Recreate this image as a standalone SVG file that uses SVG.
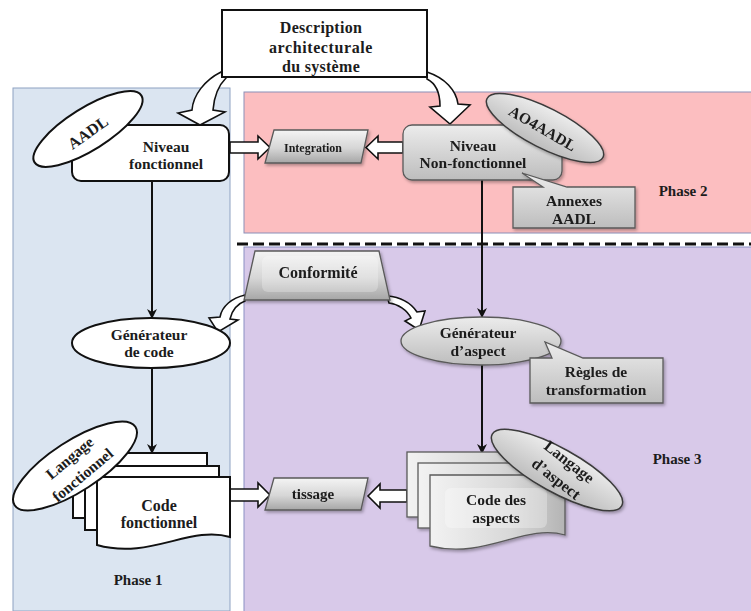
<svg xmlns="http://www.w3.org/2000/svg" width="751" height="611" viewBox="0 0 751 611">
  <style>
    .t { font-family: "Liberation Serif", "Times New Roman", serif; font-weight: bold; fill: #1c1c1c; text-anchor: middle; }
    .f12 { font-size: 12px; }
    .f15 { font-size: 15px; }
    .f155 { font-size: 15.5px; }
    .f16 { font-size: 16px; }
    .white { fill: #ffffff; stroke: #111111; stroke-width: 2; }
    .gray { stroke: #5a5a5a; stroke-width: 1.3; }
    .blk { fill: #ffffff; stroke: #111111; stroke-width: 1.6; stroke-linejoin: miter; }
    .line { fill: none; stroke: #111111; stroke-width: 2; marker-end: url(#arr); }
  </style>
  <defs>
    <marker id="arr" viewBox="0 0 10 10" refX="9" refY="5" markerWidth="10" markerHeight="10" markerUnits="userSpaceOnUse" orient="auto">
      <path d="M0,0 L10,5 L0,10 L3,5 Z" fill="#111111"/>
    </marker>
    <linearGradient id="g1" x1="0" y1="0" x2="0" y2="1">
      <stop offset="0" stop-color="#f4f4f4"/>
      <stop offset="0.55" stop-color="#d6d6d6"/>
      <stop offset="1" stop-color="#a6a6a6"/>
    </linearGradient>
    <linearGradient id="g2" x1="0" y1="0" x2="0" y2="1">
      <stop offset="0" stop-color="#ececec"/>
      <stop offset="1" stop-color="#bdbdbd"/>
    </linearGradient>
    <linearGradient id="g3" x1="0" y1="0" x2="1" y2="0">
      <stop offset="0" stop-color="#f2f2f2"/>
      <stop offset="0.6" stop-color="#d8d8d8"/>
      <stop offset="1" stop-color="#b4b4b4"/>
    </linearGradient>
    <filter id="sh" x="-10%" y="-10%" width="130%" height="140%">
      <feDropShadow dx="1.5" dy="2" stdDeviation="1.5" flood-color="#000000" flood-opacity="0.3"/>
    </filter>
  </defs>

  <!-- phase areas -->
  <g id="phases">
    <rect x="13" y="88" width="217" height="523" fill="#dbe5f1" stroke="#8ea2c2" stroke-width="1"/>
    <rect x="244" y="92" width="508" height="141" fill="#fcbec0" stroke="#8a8fb8" stroke-width="1"/>
    <rect x="244" y="247" width="508" height="365" fill="#d8c9e9" stroke="#8a8fc4" stroke-width="1"/>
    <line x1="237" y1="244" x2="751" y2="244" stroke="#111111" stroke-width="3" stroke-dasharray="11 5"/>
    <text class="t f15" x="138" y="585">Phase 1</text>
    <text class="t f15" x="683" y="196">Phase 2</text>
    <text class="t f15" x="677" y="464">Phase 3</text>
  </g>

  <!-- connectors -->
  <g id="connectors">
    <line class="line" x1="152" y1="181" x2="152" y2="318"/>
    <line class="line" x1="152" y1="368" x2="152" y2="453"/>
    <line class="line" x1="482" y1="180" x2="482" y2="317"/>
    <line class="line" x1="482" y1="365" x2="482" y2="453"/>
    <!-- curved block arrows from the description -->
    <path class="blk" d="M221 72 C205 80 193 95 192 110 L178 113 L200 125 L225 112 L213 110 C214 97 218 86 226 78 Z"/>
    <path class="blk" d="M427 72 C445 78 456 90 458 104 L470 105 L450 124 L430 107 L440 106 C440 92 435 83 427 79 Z"/>
    <!-- block arrows to integration -->
    <path class="blk" d="M230 142 H258 V136 L270 147.5 L258 159 V153 H230 Z"/>
    <path class="blk" d="M403 142 H378 V136 L366 147.5 L378 159 V153 H403 Z"/>
    <!-- curved block arrows from conformité -->
    <path class="blk" d="M245 295 C232 298 222 306 220 317 L209 318 L218 332 L238 320 L230 319 C232 310 237 304 245 301 Z"/>
    <path class="blk" d="M387 296 C400 297 411 303 417 312 L425 311 L419 330 L405 321 L411 318 C407 310 398 304 389 303 Z"/>
    <!-- block arrows to tissage -->
    <path class="blk" d="M230 489 H258 V483 L270 495 L258 507 V501 H230 Z"/>
    <path class="blk" d="M407 490 H380 V484 L368 496 L380 508 V502 H407 Z"/>
  </g>

  <g id="description">
    <rect x="222" y="10" width="205" height="67" fill="#ffffff" stroke="#111111" stroke-width="2"/>
    <text class="t f16" x="321" y="33" letter-spacing="0.3">Description</text>
    <text class="t f16" x="321" y="53" letter-spacing="0.6">architecturale</text>
    <text class="t f16" x="321" y="72" letter-spacing="0.3">du système</text>
  </g>

  <g id="niveau-fonctionnel">
    <rect class="white" x="72" y="125" width="157" height="56" rx="9"/>
    <text class="t f155" x="166" y="152">Niveau</text>
    <text class="t f155" x="166" y="169">fonctionnel</text>
  </g>

  <g id="aadl">
    <ellipse class="white" cx="88" cy="129" rx="63" ry="21" transform="rotate(-32 88 129)"/>
    <text class="t f16" x="0" y="0" transform="translate(91 137) rotate(-35)">AADL</text>
  </g>

  <g id="integration" filter="url(#sh)">
    <path class="gray" d="M274 130 H368 L361 163 H265 Z" fill="url(#g1)"/>
    <text class="t f12" x="313" y="152">Integration</text>
  </g>

  <g id="niveau-non-fonctionnel" filter="url(#sh)">
    <rect class="gray" x="403" y="125" width="159" height="55" rx="9" fill="url(#g2)"/>
    <text class="t f155" x="473" y="151">Niveau</text>
    <text class="t f155" x="473" y="168">Non-fonctionnel</text>
  </g>

  <g id="ao4aadl" filter="url(#sh)">
    <ellipse cx="545" cy="128" rx="65" ry="20" transform="rotate(27 545 128)" fill="url(#g2)" stroke="#3a3a3a" stroke-width="1.5"/>
    <text class="t f155" x="0" y="0" transform="translate(540 133) rotate(30)">AO4AADL</text>
  </g>

  <g id="annexes-aadl" filter="url(#sh)">
    <path class="gray" d="M513 187 H543 L522 173 L567 187 H635 V228 H513 Z" fill="url(#g2)"/>
    <text class="t f155" x="574" y="206">Annexes</text>
    <text class="t f155" x="574" y="224">AADL</text>
  </g>

  <g id="conformite" filter="url(#sh)">
    <path class="gray" d="M255 251 H379 L390 300 H244 Z" fill="url(#g1)"/>
    <rect x="262" y="256" width="116" height="36" rx="6" fill="#ffffff" opacity="0.25"/>
    <text class="t f16" x="318" y="278">Conformité</text>
  </g>

  <g id="generateur-code">
    <ellipse class="white" cx="151" cy="343" rx="79" ry="25"/>
    <text class="t f155" x="149" y="340">Générateur</text>
    <text class="t f155" x="149" y="357">de code</text>
  </g>

  <g id="generateur-aspect" filter="url(#sh)">
    <ellipse cx="481" cy="341" rx="80" ry="24" fill="url(#g2)" stroke="#5a5a5a" stroke-width="1.3"/>
    <text class="t f155" x="478" y="338">Générateur</text>
    <text class="t f155" x="478" y="356">d’aspect</text>
  </g>

  <g id="regles-transformation" filter="url(#sh)">
    <path class="gray" d="M530 358 H552 L545 342 L583 358 H663 V403 H530 Z" fill="url(#g2)"/>
    <text class="t f155" x="596" y="377">Règles de</text>
    <text class="t f155" x="596" y="395">transformation</text>
  </g>

  <g id="code-fonctionnel">
    <rect class="white" x="73" y="453" width="134" height="65"/>
    <rect class="white" x="85" y="466" width="134" height="64"/>
    <path class="white" d="M97 477 H230 V537 C190 525 150 560 97 545 Z"/>
    <text class="t f16" x="159" y="511">Code</text>
    <text class="t f16" x="159" y="528">fonctionnel</text>
  </g>

  <g id="langage-fonctionnel">
    <ellipse class="white" cx="75" cy="466" rx="72" ry="25" transform="rotate(-33 75 466)"/>
    <text class="t f155" x="0" y="0" transform="translate(73 462) rotate(-40)">Langage</text>
    <text class="t f155" x="0" y="0" transform="translate(86 479) rotate(-40)">fonctionnel</text>
  </g>

  <g id="tissage" filter="url(#sh)">
    <path class="gray" d="M274 478 H368 L361 510 H265 Z" fill="url(#g1)"/>
    <text class="t f15" x="313" y="499">tissage</text>
  </g>

  <g id="code-aspects" filter="url(#sh)">
    <rect class="gray" x="407" y="452" width="134" height="65" fill="url(#g3)"/>
    <rect class="gray" x="418" y="463" width="134" height="65" fill="url(#g3)"/>
    <path class="gray" d="M430 475 H565 V535 C525 523 485 560 430 546 Z" fill="url(#g3)"/>
    <rect x="445" y="488" width="102" height="40" rx="6" fill="#ffffff" opacity="0.3"/>
    <text class="t f155" x="496" y="505">Code des</text>
    <text class="t f155" x="496" y="523">aspects</text>
  </g>

  <g id="langage-aspect" filter="url(#sh)">
    <ellipse cx="557" cy="470" rx="74" ry="22" transform="rotate(29 557 470)" fill="url(#g2)" stroke="#3a3a3a" stroke-width="1.5"/>
    <text class="t f16" x="0" y="0" transform="translate(566 466) rotate(38)">Langage</text>
    <text class="t f16" x="0" y="0" transform="translate(553 483) rotate(38)">d’aspect</text>
  </g>
</svg>
